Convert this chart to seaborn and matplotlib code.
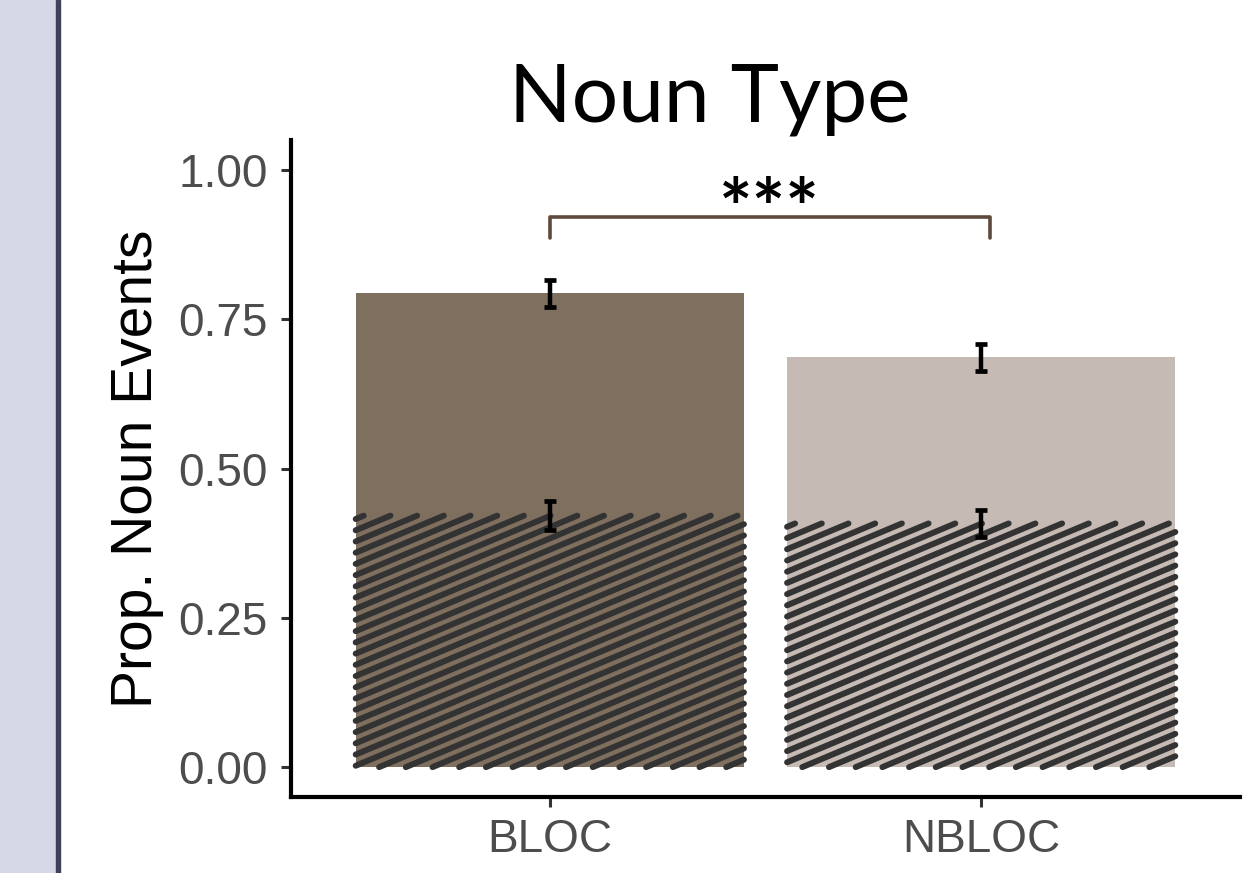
import numpy as np
import pandas as pd
import seaborn as sns
import matplotlib.pyplot as plt
from matplotlib.patches import Rectangle

# values
conditions = ['BLOC', 'NBLOC']
prop_total = [0.793, 0.686]
se_total = [0.022, 0.022]
prop_hatched = [0.421, 0.408]
se_hatched = [0.024, 0.022]
bar_colors = ['#7f6f5f', '#c6bab4']
yticks = [0.0, 0.25, 0.5, 0.75, 1.0]
sig_pair = [0, 1]
sig_label = '***'

df = pd.DataFrame({'cond': conditions, 'total': prop_total, 'hatched': prop_hatched})
palette = dict(zip(conditions, bar_colors))

sns.set_style('ticks')
plt.rcParams['font.family'] = ['Liberation Sans', 'DejaVu Sans']

W, H = 1254, 873
fig = plt.figure(figsize=(W / 100, H / 100), dpi=100)

# left slide panel
fig.patches.append(Rectangle((0, 0), 56 / W, 1, transform=fig.transFigure, color='#d5d9e5', zorder=0))
fig.patches.append(Rectangle((56 / W, 0), 4 / W, 1, transform=fig.transFigure, color='#3f425a', zorder=0))

ax = fig.add_axes([291 / W, 1 - 797 / H, (1240 - 291) / W, (797 - 140) / H])

sns.barplot(data=df, x='cond', y='total', hue='cond', palette=palette, width=0.9,
            saturation=1, legend=False, errorbar=None, linewidth=0, ax=ax)
n_first = len(ax.patches)
sns.barplot(data=df, x='cond', y='hatched', hue='cond', palette=palette, width=0.9,
            saturation=1, legend=False, errorbar=None, linewidth=0, ax=ax)
hatch_bars = ax.patches[n_first:]

ax.set_xlim(-0.6, 1.6)
ax.set_ylim(-0.05, 1.05)

# stripe pattern on the lower bars
slope = 0.42
step = 26.7
inv = ax.transData.inverted()
for bar in hatch_bars:
    (x0, y0), (x1, y1) = ax.transData.transform(
        [(bar.get_x(), bar.get_y()), (bar.get_x() + bar.get_width(), bar.get_y() + bar.get_height())])
    c = x0 - (y1 - y0) / slope + 8
    while c < x1:
        xa, ya = c, y0
        xb, yb = c + (y1 - y0) / slope, y1
        if xa < x0:
            ya = y0 + slope * (x0 - c)
            xa = x0
        if xb > x1:
            yb = y0 + slope * (x1 - c)
            xb = x1
        if xb > xa:
            pts = inv.transform([(xa, ya), (xb, yb)])
            ax.plot(pts[:, 0], pts[:, 1], color='#333333', lw=4.3, solid_capstyle='round', zorder=3)
        c += step

xpos = np.arange(len(conditions))
ax.errorbar(xpos, prop_total, yerr=se_total, fmt='none', ecolor='black', elinewidth=3.2, capsize=4, capthick=3.4, zorder=5)
ax.errorbar(xpos, prop_hatched, yerr=se_hatched, fmt='none', ecolor='black', elinewidth=3.2, capsize=4, capthick=3.4, zorder=5)

# significance bracket
bx = [sig_pair[0], sig_pair[0], sig_pair[1] + 0.02, sig_pair[1] + 0.02]
ax.plot(bx, [0.886, 0.921, 0.921, 0.886], color='#5e4a3c', lw=2.6, zorder=4)
ax.text(0.51, 0.889, sig_label, ha='center', va='baseline', fontsize=57, fontweight='bold',
        color='black', family=['Lato', 'DejaVu Sans'])

ax.set_yticks(yticks)
ax.set_yticklabels([f'{v:.2f}' for v in yticks])
ax.set_xlabel('')
ax.set_ylabel('Prop. Noun Events', fontsize=41, color='black')
ax.yaxis.set_label_coords(-0.134, 0.5)
ax.tick_params(axis='both', labelsize=33, labelcolor='#4d4d4d', color='#333333', length=7, width=2.2)
ax.tick_params(axis='y', pad=10)
ax.tick_params(axis='x', pad=8)
for side in ['top', 'right']:
    ax.spines[side].set_visible(False)
for side in ['left', 'bottom']:
    ax.spines[side].set_linewidth(3)
    ax.spines[side].set_color('black')

fig.text(710 / W, 1 - 122 / H, 'Noun Type', ha='center', va='baseline', fontsize=59, color='black',
         family=['Lato', 'DejaVu Sans'])

fig.savefig('out.png', dpi=100)
